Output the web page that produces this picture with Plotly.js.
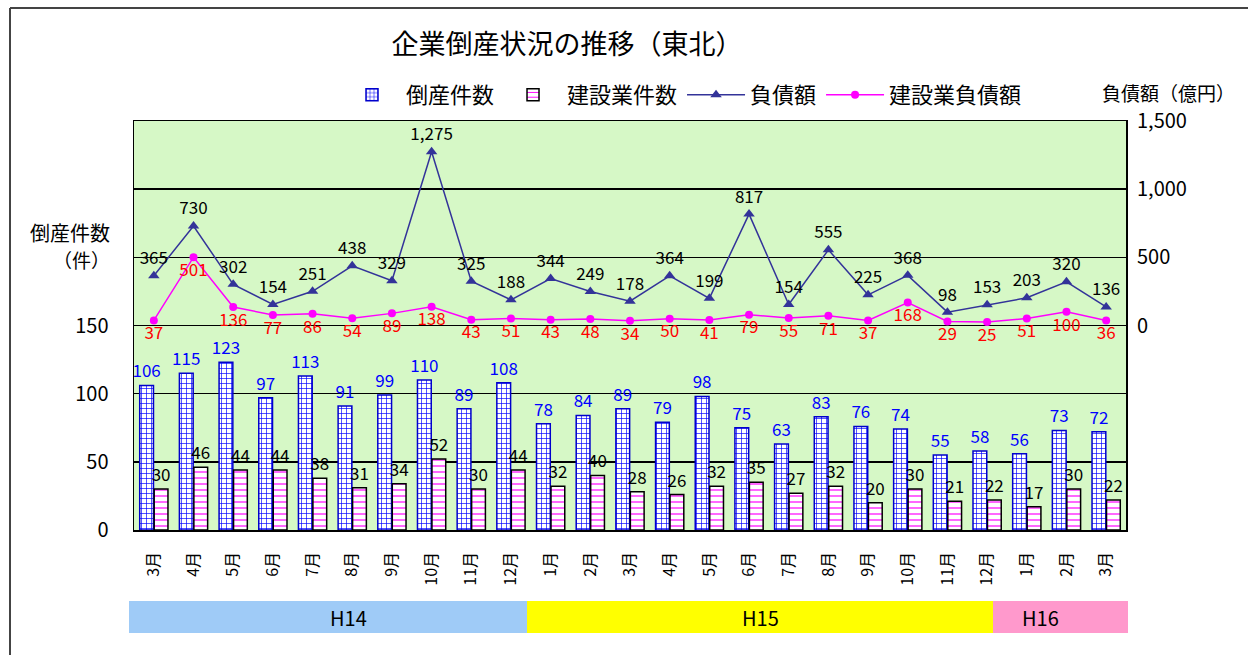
<!DOCTYPE html>
<html>
<head>
<meta charset="utf-8">
<script src="https://cdn.plot.ly/plotly-3.0.1.min.js"></script>
<style>html,body{margin:0;padding:0;background:#fff;}#chart{width:1248px;height:655px;}</style>
</head>
<body>
<div id="chart"></div>
<script>
const months = ['3月','4月','5月','6月','7月','8月','9月','10月','11月','12月','1月','2月','3月','4月','5月','6月','7月','8月','9月','10月','11月','12月','1月','2月','3月'];
const bankruptCount = [106,115,123,97,113,91,99,110,89,108,78,84,89,79,98,75,63,83,76,74,55,58,56,73,72];
const constructionCount = [30,46,44,44,38,31,34,52,30,44,32,40,28,26,32,35,27,32,20,30,21,22,17,30,22];
const debtAmount = [365,730,302,154,251,438,329,1275,325,188,344,249,178,364,199,817,154,555,225,368,98,153,203,320,136];
const constructionDebt = [37,501,136,77,86,54,89,138,43,51,43,48,34,50,41,79,55,71,37,168,29,25,51,100,36];
const years = ['H14','H15','H16'];
const yearColors = ['#9fcbf7','#ffff00','#ff99cc'];
const leftTicks = [0,50,100,150,200,250,300];
const leftTickText = ['0','50','100','150','','',''];
const rightTicks = [0,500,1000,1500];

const idx = months.map((m,i)=>i);
const F = 'Noto Sans CJK JP, Noto Sans, sans-serif';

const traces = [
  {type:'bar', name:'倒産件数', x:idx, y:bankruptCount, yaxis:'y',
   marker:{color:'#ffffff', line:{color:'#0000cc', width:1.5},
     pattern:{shape:'+', fgcolor:'#0000ff', bgcolor:'#ffffff', size:5, solidity:0.25}},
   text:bankruptCount.map(String), textposition:'outside', cliponaxis:false, constraintext:'none',
   textfont:{family:F, size:17, color:'#0000ff'}},
  {type:'bar', name:'建設業件数', x:idx, y:constructionCount, yaxis:'y',
   marker:{color:'#ffffff', line:{color:'#000000', width:1.5},
     pattern:{shape:'-', fgcolor:'#ff00ff', bgcolor:'#ffffff', size:6, solidity:0.2}},
   text:constructionCount.map(String), textposition:'outside', cliponaxis:false, constraintext:'none',
   textfont:{family:F, size:17, color:'#000000'}},
  {type:'scatter', mode:'lines+markers+text', name:'負債額', x:idx, y:debtAmount, yaxis:'y2',
   line:{color:'#333399', width:1.5}, marker:{symbol:'triangle-up', size:10, color:'#333399'},
   texttemplate:'%{y:,}', textposition:'top center', cliponaxis:false,
   textfont:{family:F, size:17, color:'#000000'}},
  {type:'scatter', mode:'lines+markers+text', name:'建設業負債額', x:idx, y:constructionDebt, yaxis:'y2',
   line:{color:'#ff00ff', width:1.5}, marker:{symbol:'circle', size:8, color:'#ff00ff'},
   texttemplate:'%{y:,}', textposition:'bottom center', cliponaxis:false,
   textfont:{family:F, size:17, color:'#ff0000'}}
];

const L=134, R=1126, T=121, B=530, W=1248, H=655;
const px = x => (x-L)/(R-L);
const py = y => (B-y)/(B-T);
const bandEdges = [129, 527, 993, 1128];

const shapes = [
  {type:'line', xref:'paper', yref:'paper', x0:px(10), x1:px(1248), y0:py(8), y1:py(8), line:{color:'#444', width:2}},
  {type:'line', xref:'paper', yref:'paper', x0:px(10), x1:px(10), y0:py(8), y1:py(660), line:{color:'#444', width:2}}
];
const annotations = [
  {xref:'paper', yref:'paper', x:px(112), y:py(232), xanchor:'right', yanchor:'middle', text:'倒産件数', showarrow:false, font:{family:F, size:20, color:'#000'}},
  {xref:'paper', yref:'paper', x:px(112), y:py(259), xanchor:'right', yanchor:'middle', text:'（件）', showarrow:false, font:{family:F, size:19, color:'#000'}},
  {xref:'paper', yref:'paper', x:px(1100), y:py(92), xanchor:'left', yanchor:'middle', text:'負債額（億円）', showarrow:false, font:{family:F, size:19, color:'#000'}}
];
years.forEach((yr,i)=>{
  const x0 = px(bandEdges[i]), x1 = px(bandEdges[i+1]);
  shapes.push({type:'rect', xref:'paper', yref:'paper', x0:x0, x1:x1, y0:py(633), y1:py(601), fillcolor:yearColors[i], line:{width:0}, layer:'below'});
  annotations.push({xref:'paper', yref:'paper', x:(x0+x1)/2, y:py(617), text:yr, showarrow:false, font:{family:F, size:20, color:'#000'}, yanchor:'middle'});
});

const layout = {
  width:W, height:H,
  margin:{l:L, r:W-R, t:T, b:H-B},
  paper_bgcolor:'#ffffff', plot_bgcolor:'#d6f8c6',
  title:{text:'企業倒産状況の推移（東北）', x:567/W, xref:'container', y:1-45/H, yref:'container', xanchor:'center', yanchor:'middle', font:{family:F, size:27, color:'#000'}},
  barmode:'group', bargap:0.27, bargroupgap:0.05,
  showlegend:true,
  legend:{orientation:'h', x:px(338), y:py(95), xanchor:'left', yanchor:'middle', font:{family:F, size:22, color:'#000'}, bgcolor:'rgba(0,0,0,0)', traceorder:'normal', itemwidth:58},
  xaxis:{tickvals:idx, ticktext:months, tickangle:-90, range:[-0.5,24.5], showgrid:false, zeroline:false,
    showline:true, linecolor:'#000', linewidth:1.5, mirror:true, ticks:'', ticklabelstandoff:14,
    tickfont:{family:F, size:16, color:'#000'}},
  yaxis:{range:[0,300], tickvals:leftTicks, ticktext:leftTickText, showgrid:true, gridcolor:'#000', gridwidth:1.5,
    zeroline:false, showline:true, linecolor:'#000', linewidth:1.5, mirror:true, ticks:'', ticklabelstandoff:20,
    tickfont:{family:F, size:20, color:'#000'}},
  yaxis2:{range:[-1500,1500], tickvals:rightTicks, tickformat:',', overlaying:'y', side:'right', showgrid:false,
    zeroline:false, showline:false, ticks:'', ticklabelstandoff:10, tickfont:{family:F, size:20, color:'#000'}},
  shapes:shapes, annotations:annotations
};

Plotly.newPlot('chart', traces, layout, {staticPlot:true, displayModeBar:false});
</script>
</body>
</html>
